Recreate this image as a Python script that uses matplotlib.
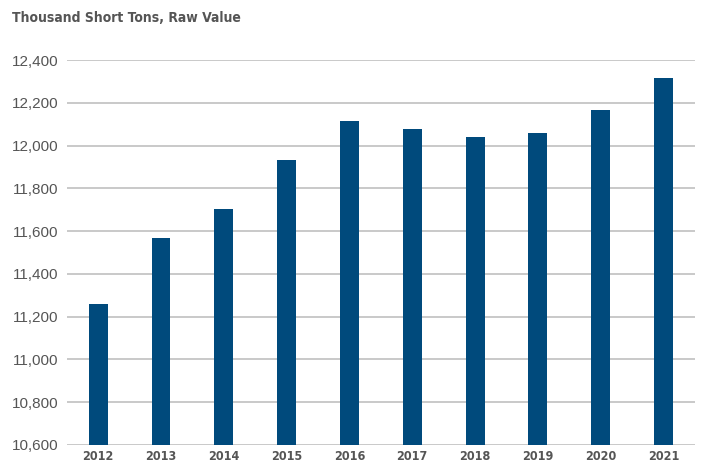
import numpy as np
import matplotlib
matplotlib.use('Agg')
import matplotlib.pyplot as plt
from matplotlib.ticker import FuncFormatter

# 数据
years = ['2012', '2013', '2014', '2015', '2016', '2017', '2018', '2019', '2020', '2021']
values = [11258, 11569, 11706, 11933, 12115, 12076, 12041, 12058, 12165, 12316]
y_ticks = [10600, 10800, 11000, 11200, 11400, 11600, 11800, 12000, 12200, 12400]

plt.rcParams['font.family'] = ['DejaVu Sans']
plt.rcParams['font.stretch'] = 'condensed'

bar_color = '#004a7c'
text_color = '#555555'
grid_color = '#c0c0c0'

fig = plt.figure(figsize=(7.02, 4.63), dpi=100)
ax = fig.add_axes([0.095, 0.039, 0.895, 0.831])

x = np.arange(len(years))
ax.bar(x, values, width=0.3, color=bar_color, zorder=3)

ax.set_ylim(10600, 12400)
ax.set_xlim(-0.5, len(years) - 0.5)
ax.set_yticks(y_ticks)
ax.yaxis.set_major_formatter(FuncFormatter(lambda v, p: f'{int(v):,}'))
ax.set_xticks(x)
ax.set_xticklabels(years, fontweight='bold', fontsize=9)

ax.grid(axis='y', color=grid_color, linewidth=1.2, zorder=0)
for s in ax.spines.values():
    s.set_visible(False)
ax.tick_params(axis='both', length=0, colors=text_color)
ax.tick_params(axis='y', pad=6)
ax.tick_params(axis='x', pad=4)
for lbl in ax.get_yticklabels():
    lbl.set_family(['Liberation Sans', 'DejaVu Sans'])
    lbl.set_stretch('normal')
    lbl.set_fontsize(11)

fig.text(0.017, 1 - 18 / 463, 'Thousand Short Tons, Raw Value', fontsize=10,
         fontweight='bold', color=text_color, va='center', ha='left')

fig.savefig('out.png', dpi=100)
